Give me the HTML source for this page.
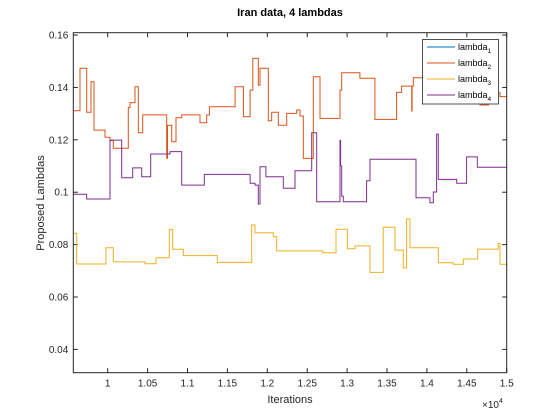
<!DOCTYPE html>
<html><head><meta charset="utf-8"><style>
html,body{margin:0;padding:0;background:#fff;}
svg{display:block;font-family:"Liberation Sans",Arial,sans-serif;}
</style></head><body>
<svg id="chart" width="560" height="420" xmlns="http://www.w3.org/2000/svg">
<rect x="0" y="0" width="560" height="420" fill="#fff"/>
<text x="290" y="16" text-anchor="middle" font-size="11" font-weight="bold" fill="#000">Iran data, 4 lambdas</text>
<text x="290" y="403" text-anchor="middle" font-size="11" fill="#262626">Iterations</text>
<text transform="translate(44,203) rotate(-90)" text-anchor="middle" font-size="11" fill="#262626">Proposed Lambdas</text>
<text x="482" y="408" font-size="10" fill="#262626">×10<tspan dy="-5" font-size="7">4</tspan></text>
<g id="ticks"></g>
<g id="series"></g>
<rect x="73.3" y="32.7" width="433.4" height="340" fill="none" stroke="#262626" stroke-width="1"/>
<g>
<rect x="422.5" y="39.5" width="76" height="64.5" fill="#fff" stroke="#262626" stroke-width="0.8"/>
<g><line x1="427" y1="47" x2="455" y2="47" stroke="#0072BD" stroke-width="1"/><text x="458" y="50" font-size="9" fill="#000">lambda<tspan dy="3" font-size="6.5">1</tspan></text></g>
<g><line x1="427" y1="63" x2="455" y2="63" stroke="#D95319" stroke-width="1"/><text x="458" y="66" font-size="9" fill="#000">lambda<tspan dy="3" font-size="6.5">2</tspan></text></g>
<g><line x1="427" y1="79" x2="455" y2="79" stroke="#EDB120" stroke-width="1"/><text x="458" y="82" font-size="9" fill="#000">lambda<tspan dy="3" font-size="6.5">3</tspan></text></g>
<g><line x1="427" y1="95" x2="455" y2="95" stroke="#7E2F8E" stroke-width="1"/><text x="458" y="98" font-size="9" fill="#000">lambda<tspan dy="3" font-size="6.5">4</tspan></text></g>
</g>
</svg>
<script>
const xTicks = [1, 1.05, 1.1, 1.15, 1.2, 1.25, 1.3, 1.35, 1.4, 1.45, 1.5];
const xTickLabels = ["1","1.05","1.1","1.15","1.2","1.25","1.3","1.35","1.4","1.45","1.5"];
const yTicks = [0.04, 0.06, 0.08, 0.1, 0.12, 0.14, 0.16];
const yTickLabels = ["0.04","0.06","0.08","0.1","0.12","0.14","0.16"];
const lambda2Iter = [9569,9653,9737,9791,9829,9966,10029,10070,10258,10279,10342,10383,10439,10739,10750,10802,10856,10927,11157,11241,11274,11596,11700,11784,11818,11887,11908,12012,12055,12138,12243,12368,12410,12451,12576,12660,12911,12932,13160,13348,13620,13683,13809,13815,13829,14665,14769,14916];
const lambda2Vals = [0.1311,0.1473,0.1305,0.1422,0.1237,0.1210,0.1197,0.1168,0.1324,0.1342,0.1403,0.1227,0.1295,0.113,0.1256,0.1193,0.1284,0.1295,0.1265,0.1295,0.1326,0.1403,0.1288,0.1390,0.1511,0.1409,0.1473,0.1273,0.1305,0.1256,0.1301,0.1314,0.1291,0.1129,0.1441,0.1282,0.1390,0.1456,0.1435,0.1278,0.1381,0.1405,0.131,0.1405,0.1437,0.1333,0.138,0.1365];
const lambda3Iter = [9569,9611,9979,10070,10467,10605,10772,10814,10947,11373,11804,11846,12075,12118,12694,12861,13002,13099,13287,13453,13600,13704,13746,13788,14143,14331,14456,14636,14894,14916];
const lambda3Vals = [0.0843,0.0726,0.0788,0.0734,0.0727,0.0750,0.0858,0.0782,0.0758,0.0732,0.0875,0.0845,0.083,0.0776,0.0769,0.0859,0.0784,0.0795,0.0694,0.0866,0.0779,0.0711,0.0898,0.0788,0.0731,0.0725,0.0745,0.0783,0.0805,0.0725];
const lambda4Iter = [9569,9737,10029,10175,10313,10426,10539,10781,10927,11211,11784,11846,11887,11908,11983,12200,12347,12556,12619,12911,12918,12932,12952,13245,13287,13863,14038,14080,14122,14143,14373,14498,14631];
const lambda4Vals = [0.0992,0.0974,0.1199,0.1055,0.1093,0.1059,0.1146,0.1155,0.1027,0.1068,0.1034,0.1027,0.0955,0.1097,0.1059,0.1015,0.1082,0.1227,0.0964,0.1198,0.110,0.0985,0.0964,0.1044,0.1126,0.0979,0.0960,0.1001,0.1222,0.1049,0.1034,0.1135,0.1095];

const X0 = 73.3, X1 = 506.7, Y0 = 372.7, Y1 = 32.7;
const xMin = 9569, xMax = 15000, yMin = 0.0311, yMax = 0.1609;
function sx(v){ return X0 + (v - xMin) / (xMax - xMin) * (X1 - X0); }
function sy(v){ return Y0 - (v - yMin) / (yMax - yMin) * (Y0 - Y1); }
const NS = "http://www.w3.org/2000/svg";
const tg = document.getElementById("ticks");
xTicks.forEach((t, i) => {
  const x = sx(t * 10000);
  const l1 = document.createElementNS(NS, "line");
  l1.setAttribute("x1", x); l1.setAttribute("x2", x); l1.setAttribute("y1", Y0); l1.setAttribute("y2", Y0 - 4.5);
  l1.setAttribute("stroke", "#262626");
  
  
  tg.appendChild(l1);
  const l2 = document.createElementNS(NS, "line");
  l2.setAttribute("x1", x); l2.setAttribute("x2", x); l2.setAttribute("y1", Y1); l2.setAttribute("y2", Y1 + 4.5);
  l2.setAttribute("stroke", "#262626");
  
  
  tg.appendChild(l2);
  const tx = document.createElementNS(NS, "text");
  tx.setAttribute("x", x); tx.setAttribute("y", Y0 + 14); tx.setAttribute("text-anchor", "middle");
  tx.setAttribute("font-size", "10"); tx.setAttribute("fill", "#262626");
  tx.textContent = xTickLabels[i];
  
  
  tg.appendChild(tx);
});
yTicks.forEach((t, i) => {
  const y = sy(t);
  const l1 = document.createElementNS(NS, "line");
  l1.setAttribute("x1", X0); l1.setAttribute("x2", X0 + 4.5); l1.setAttribute("y1", y); l1.setAttribute("y2", y);
  l1.setAttribute("stroke", "#262626");
  
  
  tg.appendChild(l1);
  const l2 = document.createElementNS(NS, "line");
  l2.setAttribute("x1", X1); l2.setAttribute("x2", X1 - 4.5); l2.setAttribute("y1", y); l2.setAttribute("y2", y);
  l2.setAttribute("stroke", "#262626");
  
  
  tg.appendChild(l2);
  const tx = document.createElementNS(NS, "text");
  tx.setAttribute("x", X0 - 5); tx.setAttribute("y", y + 3.5); tx.setAttribute("text-anchor", "end");
  tx.setAttribute("font-size", "10"); tx.setAttribute("fill", "#262626");
  tx.textContent = yTickLabels[i];
  
  
  tg.appendChild(tx);
});
const sg = document.getElementById("series");
function drawStep(iters, vals, color, name){
  let d = "";
  for (let i = 0; i < iters.length; i++){
    const x = sx(iters[i]), y = sy(vals[i]);
    const xn = sx(i + 1 < iters.length ? iters[i + 1] : xMax);
    d += (i === 0 ? "M" : "L") + x.toFixed(1) + "," + y.toFixed(1) + "L" + xn.toFixed(1) + "," + y.toFixed(1);
  }
  const p = document.createElementNS(NS, "path");
  p.setAttribute("d", d); p.setAttribute("fill", "none"); p.setAttribute("stroke", color); p.setAttribute("stroke-width", "1");
  
  
  sg.appendChild(p);
}
drawStep(lambda2Iter, lambda2Vals, "#D95319", "lambda2-line");
drawStep(lambda3Iter, lambda3Vals, "#EDB120", "lambda3-line");
drawStep(lambda4Iter, lambda4Vals, "#7E2F8E", "lambda4-line");
</script>
</body></html>
